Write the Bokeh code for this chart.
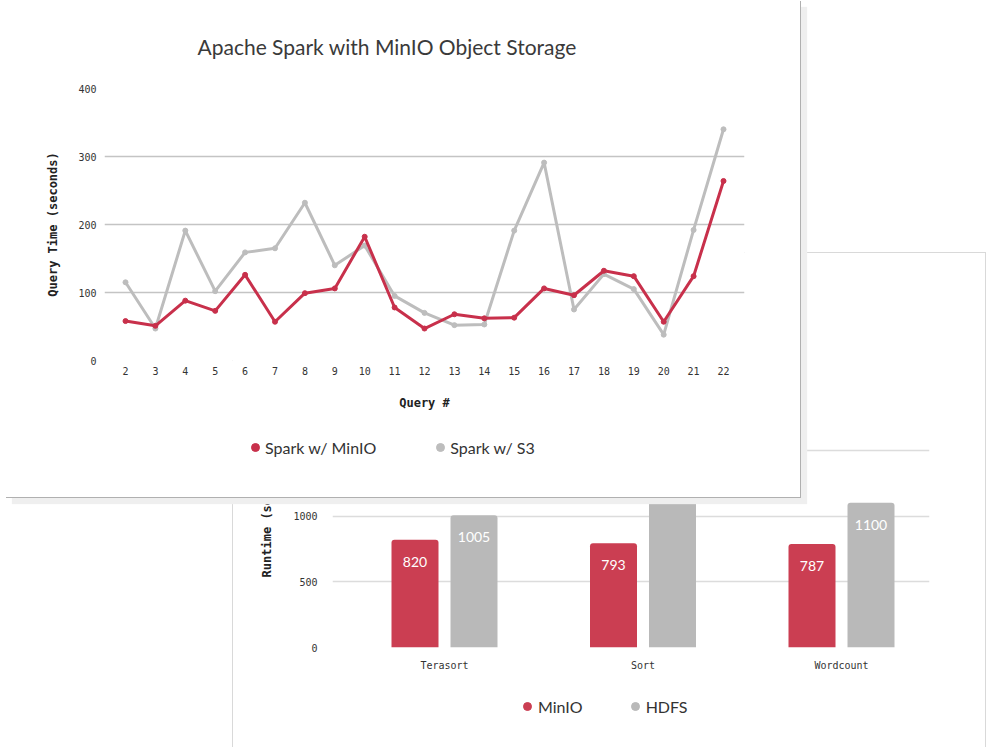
from bokeh.plotting import figure
from bokeh.models import (Range1d, FixedTicker, Legend, LegendItem,
                          ColumnDataSource)
from bokeh.layouts import column
from bokeh.embed import file_html
from bokeh.resources import INLINE
from bokeh.core.properties import value

# ---------------- data ----------------
queries = list(range(2, 23))
minio_times = [58, 51, 88, 73, 126, 57, 99, 106, 182, 78, 47, 68, 62,
               63, 106, 96, 132, 124, 57, 124, 264]
s3_times = [115, 47, 191, 102, 159, 165, 232, 140, 169, 95, 70, 52, 53,
            191, 291, 75, 127, 105, 38, 192, 340]
query_ticks = [0, 100, 200, 300, 400]

workloads = ["Terasort", "Sort", "Wordcount"]
minio_runtime = [820, 793, 787]
hdfs_runtime = [1005, 1573, 1100]
runtime_ticks = [0, 500, 1000, 1500, 2000]

# ---------------- style ----------------
RED = "#c8304b"
RED_BAR = "#cb3e52"
GREY = "#bdbdbd"
GREY_BAR = "#b9b9b9"
MONO = "DejaVu Sans Mono"
SANS = "Lato"
TXT = "#333333"
# a column aligns the left/right borders of all its plots -> share them
BORDER_L, BORDER_R = 99, 56


def style_axes(p, x_standoff, y_standoff):
    for ax in p.axis:
        ax.axis_line_color = None
        ax.major_tick_line_color = None
        ax.minor_tick_line_color = None
        ax.major_tick_out = 0
        ax.major_tick_in = 0
        ax.minor_tick_out = 0
        ax.minor_tick_in = 0
        ax.major_label_text_font = MONO
        ax.major_label_text_font_size = "10px"
        ax.major_label_text_color = TXT
    p.xaxis.major_label_standoff = x_standoff
    p.yaxis.major_label_standoff = y_standoff


def legend_figure(entries, frame_w, spacing, standoff):
    """small figure whose frame only carries a horizontal legend"""
    lp = figure(width=BORDER_L + frame_w + BORDER_R, height=24,
                x_range=Range1d(0, 1), y_range=Range1d(0, 1),
                output_backend="svg", toolbar_location=None,
                min_border_left=BORDER_L, min_border_right=BORDER_R,
                min_border_top=0, min_border_bottom=0)
    lp.axis.visible = False
    lp.grid.visible = False
    lp.outline_line_color = None
    lp.background_fill_color = "white"
    lp.border_fill_color = "white"
    items = []
    for lab, col, src, xf, yf in entries:
        # series points lie outside this tiny 0..1 view; only the swatch shows
        r = lp.scatter(x=xf, y=yf, source=src, color=col, size=8)
        items.append(LegendItem(label=lab, renderers=[r]))
    lp.add_layout(Legend(items=items, orientation="horizontal",
                         location=(5, 2), border_line_color=None,
                         background_fill_alpha=0, padding=0, margin=0,
                         spacing=spacing, glyph_width=20, glyph_height=20,
                         label_standoff=standoff, label_text_font=SANS,
                         label_text_font_size="16px",
                         label_text_color=TXT))
    return lp


# ================= back card : bar chart =================
b_left, b_top = 233, 253
b_frame_w = 597
b_frame_t, b_frame_h = 131, 263
b_w, b_h = BORDER_L + b_frame_w + BORDER_R, 494
unit_px = 198.5
first_center_px = 444 - (b_left + BORDER_L)
bx0 = 0 - first_center_px / unit_px
bx1 = bx0 + b_frame_w / unit_px
dodge_off = 29.5 / unit_px
bar_w = 47 / unit_px

idx = list(range(len(workloads)))
bar_src = ColumnDataSource(dict(
    x_minio=[i - dodge_off for i in idx],
    x_hdfs=[i + dodge_off for i in idx],
    minio=minio_runtime, hdfs=hdfs_runtime,
    minio_lbl=[str(v) for v in minio_runtime],
    hdfs_lbl=[str(v) for v in hdfs_runtime],
))

back = figure(width=b_w, height=b_h, x_range=Range1d(bx0, bx1),
              y_range=Range1d(0, 2000), output_backend="svg",
              toolbar_location=None,
              min_border_left=BORDER_L, min_border_right=BORDER_R,
              min_border_top=b_frame_t,
              min_border_bottom=b_h - b_frame_t - b_frame_h)
back.styles = {"box-shadow": "0 0 0 1px #d9d9d9"}
back.outline_line_color = None
back.background_fill_color = "white"
back.border_fill_color = "white"

back.vbar(x="x_minio", top="minio", width=bar_w, source=bar_src,
          fill_color=RED_BAR, line_color=None, border_radius=(3, 3, 0, 0))
back.vbar(x="x_hdfs", top="hdfs", width=bar_w, source=bar_src,
          fill_color=GREY_BAR, line_color=None, border_radius=(3, 3, 0, 0))
back.text(x="x_minio", y="minio", text="minio_lbl", source=bar_src,
          text_align="center", text_baseline="middle", y_offset=22,
          text_color="white", text_font=value(SANS), text_font_size="14px")
back.text(x="x_hdfs", y="hdfs", text="hdfs_lbl", source=bar_src,
          text_align="center", text_baseline="middle", y_offset=22,
          text_color="white", text_font=value(SANS), text_font_size="14px")

back.xaxis.ticker = FixedTicker(ticks=idx)
back.xaxis.major_label_overrides = {i: w for i, w in zip(idx, workloads)}
back.yaxis.ticker = FixedTicker(ticks=runtime_ticks)
style_axes(back, 12, 15)
back.yaxis.axis_label = "Runtime (seconds)"
back.yaxis.axis_label_text_font = MONO
back.yaxis.axis_label_text_font_size = "12px"
back.yaxis.axis_label_text_font_style = "bold"
back.yaxis.axis_label_text_color = "#222222"
back.yaxis.axis_label_standoff = 16
back.xgrid.visible = False
back.ygrid.grid_line_color = "#dcdcdc"
back.ygrid.grid_line_width = 1.5

back_legend = legend_figure(
    [("MinIO", RED_BAR, bar_src, "x_minio", "minio"),
     ("HDFS", GREY_BAR, bar_src, "x_hdfs", "hdfs")],
    frame_w=200, spacing=42, standoff=1)
bl_left, bl_top = 517 - 5 - BORDER_L, 694

# ================= front card : line chart =================
f_left = 104 - BORDER_L
f_w, f_h = 800 - f_left, 497
f_frame_w = f_w - BORDER_L - BORDER_R
f_frame_t, f_frame_h = 88, 272
q_px = 29.9
fx0 = queries[0] - (125 - 104) / q_px
fx1 = fx0 + f_frame_w / q_px

line_src = ColumnDataSource(dict(q=queries, minio=minio_times, s3=s3_times))

front = figure(width=f_w, height=f_h, x_range=Range1d(fx0, fx1),
               y_range=Range1d(0, 400), output_backend="svg",
               toolbar_location=None,
               title="Apache Spark with MinIO Object Storage",
               min_border_left=BORDER_L, min_border_right=BORDER_R,
               min_border_top=f_frame_t,
               min_border_bottom=f_h - f_frame_t - f_frame_h)
front.styles = {"box-shadow": "1px 1px 0 0 #b0b0b0, 7px 7px 1px 0 #efefef"}
front.outline_line_color = None
front.background_fill_color = "white"
front.border_fill_color = "white"

front.title.align = "left"
front.title.offset = 93
front.title.standoff = 60
front.title.text_font = SANS
front.title.text_font_size = "21px"
front.title.text_font_style = "normal"
front.title.text_color = "#3a3a3a"

front.line("q", "s3", source=line_src, line_color=GREY, line_width=3)
front.scatter("q", "s3", source=line_src, color=GREY, size=5)
front.line("q", "minio", source=line_src, line_color=RED, line_width=3)
front.scatter("q", "minio", source=line_src, color=RED, size=5)

front.xaxis.ticker = FixedTicker(ticks=queries)
front.yaxis.ticker = FixedTicker(ticks=query_ticks)
style_axes(front, 6, 8)
front.xaxis.axis_label = "Query #"
front.yaxis.axis_label = "Query Time (seconds)"
for ax in (front.xaxis[0], front.yaxis[0]):
    ax.axis_label_text_font = MONO
    ax.axis_label_text_font_size = "12px"
    ax.axis_label_text_font_style = "bold"
    ax.axis_label_text_color = "#222222"
front.xaxis.axis_label_standoff = 18
front.yaxis.axis_label_standoff = 15
front.xgrid.visible = False
front.ygrid.grid_line_color = "#c4c4c4"
front.ygrid.grid_line_width = 1.5

front_legend = legend_figure(
    [("Spark w/ MinIO", RED, line_src, "q", "minio"),
     ("Spark w/ S3", GREY, line_src, "q", "s3")],
    frame_w=330, spacing=54, standoff=0)
fl_left, fl_top = 245 - 5 - BORDER_L, 435

# ================= stacking (negative margins overlap the cards) ===========
stack = [(back, b_left, b_top, b_h),
         (back_legend, bl_left, bl_top, 24),
         (front, f_left, 0, f_h),
         (front_legend, fl_left, fl_top, 24)]
cursor = 0
for fig, left, top, h in stack:
    fig.margin = (top - cursor, 0, 0, left)
    cursor = top + h

layout = column([s[0] for s in stack])
open("out.html", "w").write(file_html(layout, INLINE))
